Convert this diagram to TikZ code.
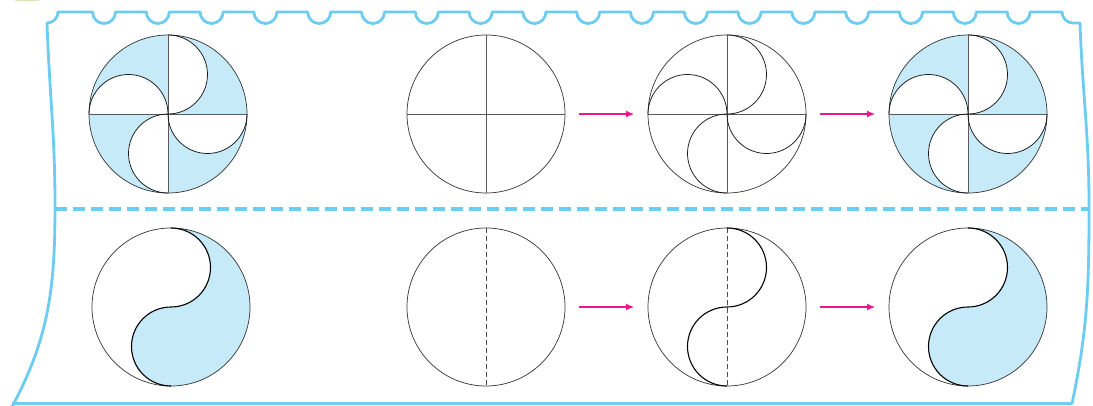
\documentclass[tikz,border=0pt]{standalone}
\usepackage{tikz}
\usetikzlibrary{arrows.meta, positioning, backgrounds}
\definecolor{frameblue}{RGB}{108,204,242}
\definecolor{shadeblue}{RGB}{199,234,248}
\definecolor{arrowpink}{RGB}{233,24,140}
\definecolor{leafgreen}{RGB}{222,230,180}

\begin{document}
\begin{tikzpicture}[
            x=1pt, y=1pt,
            disc/.style={circle, draw=black!80, line width=0.7pt, minimum size=158pt, inner sep=0pt, outer sep=0pt},
            axis/.style={draw=black!65, line width=0.8pt},
            curl/.style={draw=black!90, line width=0.75pt},
            sline/.style={draw=black, line width=1.1pt},
            fold/.style={draw=black!70, line width=0.7pt, dash pattern=on 5pt off 3pt},
            arrow/.style={-{Latex[length=8pt,width=7pt]}, arrowpink, line width=1.1pt, shorten <=14pt, shorten >=14pt},
            frame/.style={frameblue, line width=2.8pt, line join=round},
            cut/.style={frameblue, line width=3.5pt, dash pattern=on 12pt off 6pt}
        ]
            \useasboundingbox (0,0) rectangle (1093,405);

            \fill[leafgreen] (27,407) ellipse [x radius=17, y radius=3.5];

            \node[disc] (p1) at (168,291) {};
            \node[disc] (p2) at (486,291) {};
            \node[disc] (p3) at (727,291) {};
            \node[disc] (p4) at (968,291) {};

            \node[disc] (y1) at (171,98) {};
            \node[disc] (y2) at (486,98) {};
            \node[disc] (y3) at (727,98) {};
            \node[disc] (y4) at (968,98) {};

            \begin{scope}[on background layer]
                \foreach \c in {p1,p4}
                    \foreach \a in {0,90,180,270}
                        \fill[shadeblue, shift={(\c)}, rotate=\a] (0,0) -- (79,0) arc[start angle=0, end angle=90, radius=79] arc[start angle=90, end angle=-90, radius=39.5] -- cycle;
                \foreach \c in {y1,y4}
                    \fill[shadeblue, shift={(\c)}] (0,79) arc[start angle=90, end angle=-90, radius=39.5] arc[start angle=90, end angle=270, radius=39.5] arc[start angle=-90, end angle=90, radius=79] -- cycle;
            \end{scope}

            \foreach \c in {p1,p2,p3,p4}
                \draw[axis] (\c.north) -- (\c.south) (\c.west) -- (\c.east);
            \foreach \c in {p1,p3,p4}
                \foreach \a in {0,90,180,270}
                    \draw[curl, shift={(\c)}, rotate=\a] (0,79) arc[start angle=90, end angle=-90, radius=39.5];

            \foreach \c in {y2,y3}
                \draw[fold] (\c.north) -- (\c.south);
            \foreach \c in {y1,y3,y4}
                \draw[sline, shift={(\c)}] (0,79) arc[start angle=90, end angle=-90, radius=39.5] arc[start angle=90, end angle=270, radius=39.5];

            \draw[arrow] (p2) -- (p3);
            \draw[arrow] (p3) -- (p4);
            \draw[arrow] (y2) -- (y3);
            \draw[arrow] (y3) -- (y4);

            \draw[frame] (12,-2) to[out=62, in=-90] (55,200) to[out=90, in=-88] (47,382)
                arc[start angle=-90, end angle=0, radius=11]
                \foreach \k in {0,...,17}{ -- ({104+53.8*\k-11.5},393) arc[start angle=180, end angle=360, radius=11.5] }
                -- (1062,393) arc[start angle=180, end angle=270, radius=11] -- (1080,382)
                to[out=-88, in=90] (1089,200) to[out=-90, in=78] (1072,1.5) -- (12,1.5);
            \draw[cut] (55,196) -- (1089,196);
        \end{tikzpicture}
\end{document}
